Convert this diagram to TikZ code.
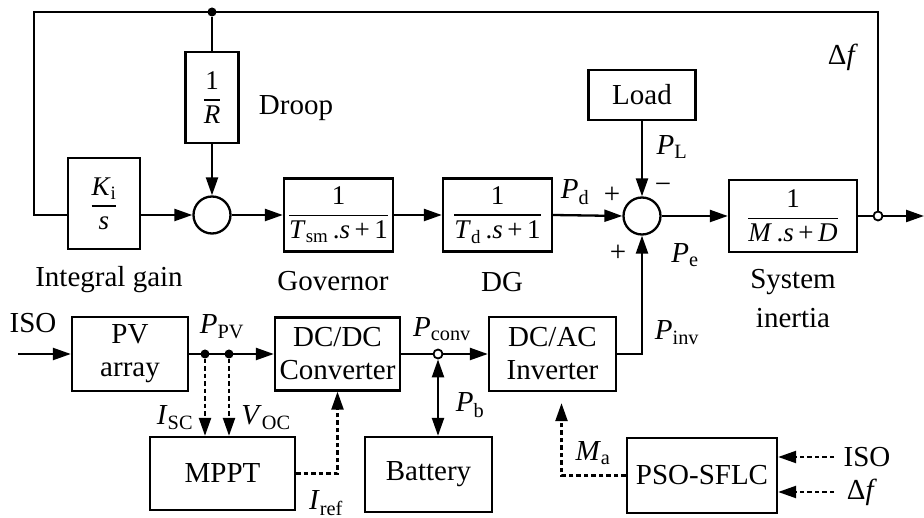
\documentclass[tikz,border=0pt]{standalone}
\usepackage{fontspec}
\setmainfont{Liberation Serif}
\usepackage{amsmath}
\usetikzlibrary{arrows.meta}
\newcommand{\lblfont}{\fontsize{29}{33}\selectfont}
\newcommand{\frfont}{\fontsize{27}{31}\selectfont}
\newcommand{\iv}[1]{\textit{#1}}
\newcommand{\myfr}[2]{$\genfrac{}{}{1.6pt}{0}{\text{#1}}{\text{#2}}$}
\tikzset{
  blk/.style={draw, line width=2.3pt, inner sep=0pt, font=\lblfont, align=center},
  fblk/.style={draw, line width=2.3pt, inner sep=0pt, font=\frfont, align=center},
  sumc/.style={draw, circle, line width=2.3pt, minimum size=37pt, inner sep=0pt},
  lab/.style={font=\lblfont, inner sep=0pt},
  ln/.style={line width=2.3pt},
  arr/.style={ln, -{Triangle[length=18pt,width=12pt]}},
  darr/.style={ln, dash pattern=on 4.5pt off 3pt, -{Triangle[length=18pt,width=12pt]}},
  jdot/.style={circle, fill, inner sep=0pt, minimum size=9pt},
  hjdot/.style={circle, draw, fill=white, line width=1.8pt, inner sep=0pt, minimum size=9pt},
}
\begin{document}
\begin{tikzpicture}[x=1pt, y=-1pt]
\useasboundingbox (0,0) rectangle (924,518);

% ---------- upper loop ----------
\node[fblk, minimum width=53pt, minimum height=91pt] (droop) at (212,97.5) {\myfr{1}{\iv{R}}};
\node[lab] (droopl) at (296,108) {Droop};
\node[fblk, minimum width=72pt, minimum height=91pt] (ki) at (104,203.5) {\myfr{\iv{K}\textsubscript{i}}{\iv{s}}};
\node[sumc] (sum1) at (212,215) {};
\node[fblk, minimum width=109pt, minimum height=73pt] (gov) at (338.5,215) {\myfr{1}{\iv{T}\textsubscript{sm}\,.\iv{s}\,+\,1}};
\node[fblk, minimum width=109pt, minimum height=73pt] (dg) at (497.5,215) {\myfr{1}{\iv{T}\textsubscript{d}\,.\iv{s}\,+\,1}};
\node[sumc] (sum2) at (642,216) {};
\node[blk, minimum width=107pt, minimum height=50pt] (load) at (642,95) {Load};
\node[fblk, minimum width=128pt, minimum height=72pt] (sys) at (793,216) {\myfr{1}{\iv{M}\,.\iv{s}\,+\,\iv{D}}};

\coordinate (jr) at (878,216);
\coordinate (out) at (924,216);
\coordinate (tl) at (34,12);

\draw[ln] (jr) -- (jr |- tl) -- (tl) -- (tl |- sum1) -- (ki.west |- sum1);
\node[jdot] (jt) at (212,12) {};
\draw[ln] (jt) -- (droop.north);
\draw[arr] (droop.south) -- (sum1.north);
\draw[arr] (ki.east |- sum1) -- (sum1.west);
\draw[arr] (sum1.east) -- (gov.west);
\draw[arr] (gov.east) -- (dg.west);
\draw[arr] (dg.east) -- (sum2.west);
\draw[arr] (load.south) -- (sum2.north);
\draw[arr] (sum2.east) -- (sys.west);
\draw[arr] (sys.east) -- (out);
\node[hjdot] (jrc) at (jr) {};

\node[lab] at (843,57) {Δ\iv{f}};
\node[lab] at (672,147) {\iv{P}\textsubscript{L}};
\node[lab] at (575,192) {\iv{P}\textsubscript{d}};
\node[lab] at (612,195) {+};
\node[lab] at (663,188) {−};
\node[lab] at (618,253) {+};
\node[lab] at (685,255) {\iv{P}\textsubscript{e}};

\node[lab] at (109,280) {Integral gain};
\node[lab] at (333,281) {Governor};
\node[lab] at (502,282) {DG};
\node[lab] at (793,282) {System};
\node[lab] at (793,318) {inertia};

% ---------- lower part ----------
\node[lab] (iso) at (33,323) {ISO};
\coordinate (isoin) at (18,354);
\node[blk, minimum width=116pt, minimum height=74pt] (pv) at (130,354) {PV\\array};
\node[blk, minimum width=125pt, minimum height=73pt] (dcdc) at (337.5,354) {DC/DC\\Converter};
\node[blk, minimum width=127pt, minimum height=74pt] (dcac) at (552.5,354) {DC/AC\\Inverter};
\node[blk, minimum width=145pt, minimum height=73pt] (mppt) at (222.5,473.5) {MPPT};
\node[blk, minimum width=127pt, minimum height=75pt] (bat) at (428.5,474.5) {Battery};
\node[blk, minimum width=150pt, minimum height=75pt] (pso) at (702,475.5) {PSO-SFLC};

\draw[arr] (isoin) -- (pv.west);
\draw[arr] (pv.east) -- (dcdc.west);
\node[jdot] (j1) at (205,354) {};
\node[jdot] (j2) at (229,354) {};
\draw[darr] (j1) -- (j1 |- mppt.north);
\draw[darr] (j2) -- (j2 |- mppt.north);
\draw[darr] (mppt.east) -| (dcdc.south);

\coordinate (jc) at (438,354);
\draw[arr] (dcdc.east) -- (dcac.west);
\node[hjdot] (jcc) at (jc) {};
\draw[ln, {Triangle[length=18pt,width=12pt]}-{Triangle[length=18pt,width=12pt]}] (jcc.south) -- (jcc |- bat.north);

\draw[arr] (dcac.east) -| (sum2.south);
\draw[darr, shorten >=11pt] (pso.west) -| ([xshift=9pt]dcac.south);

\node[lab] (isor) at (867,457) {ISO};
\node[lab] (dfr) at (862,492) {Δ\iv{f}};
\coordinate (isoc) at (834,457);
\coordinate (dfc) at (834,492);
\draw[darr] (isoc) -- (isoc -| pso.east);
\draw[darr] (dfc) -- (dfc -| pso.east);

\node[lab] at (222,327) {\iv{P}\textsubscript{PV}};
\node[lab] at (442,329) {\iv{P}\textsubscript{conv}};
\node[lab] at (470,405) {\iv{P}\textsubscript{b}};
\node[lab] at (677,333) {\iv{P}\textsubscript{inv}};
\node[lab] at (593,453) {\iv{M}\textsubscript{a}};
\node[lab] at (175,418) {\iv{I}\textsubscript{SC}};
\node[lab] at (266,418) {\iv{V}\textsubscript{OC}};
\node[lab] at (326,503) {\iv{I}\textsubscript{ref}};
\end{tikzpicture}
\end{document}
